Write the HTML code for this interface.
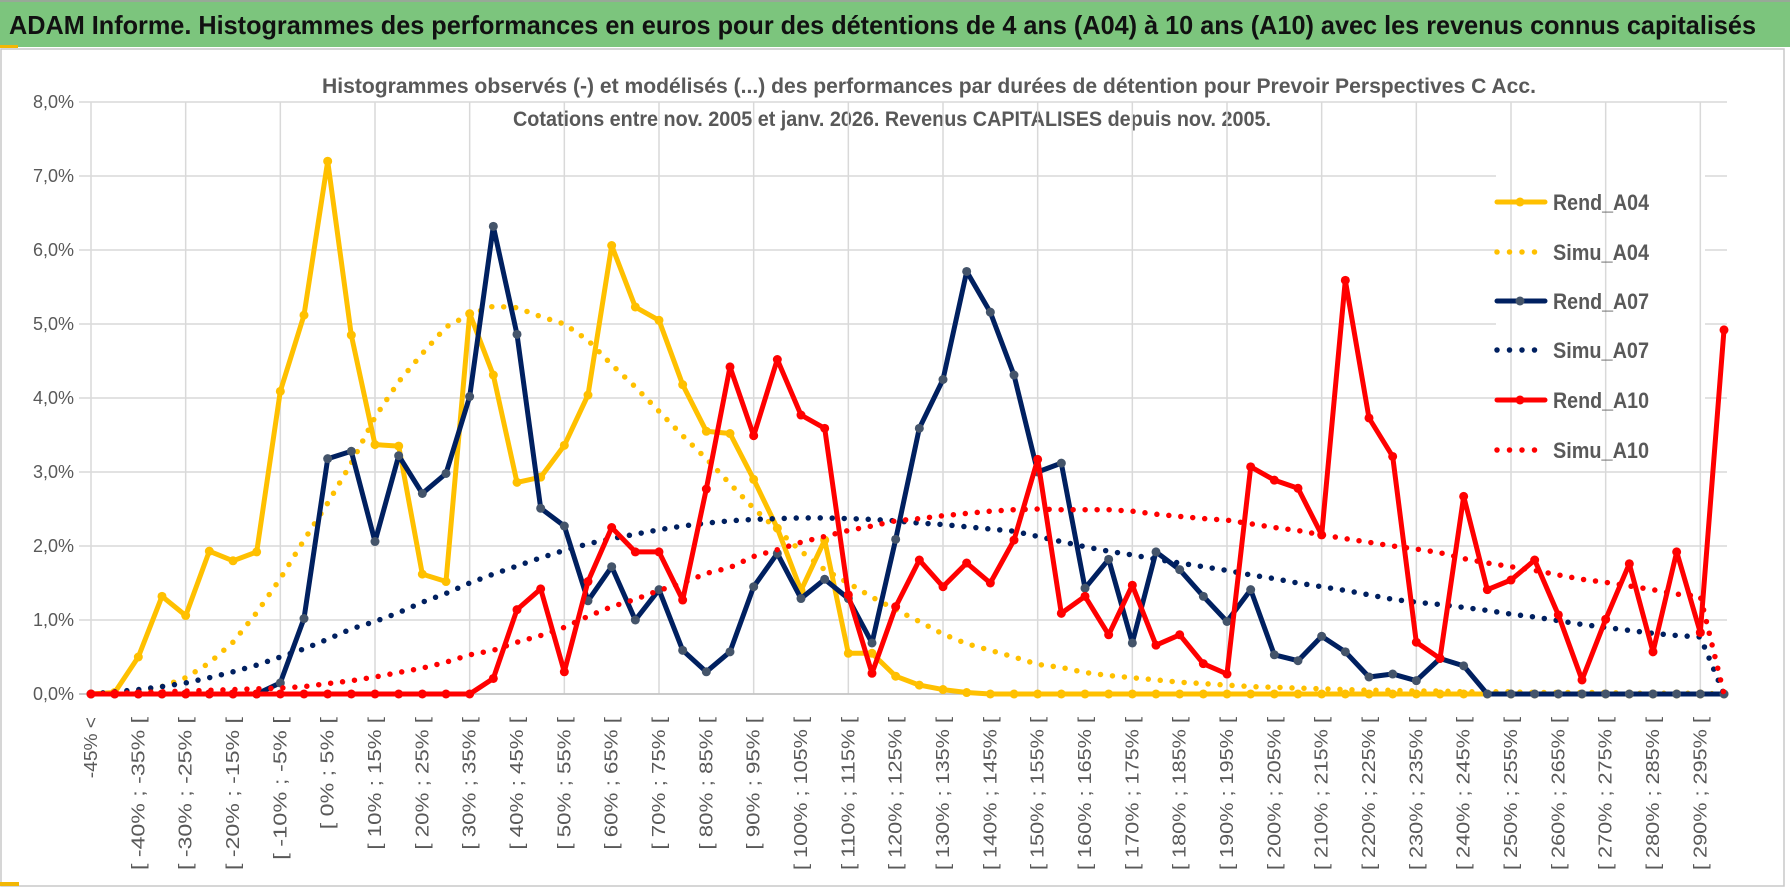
<!DOCTYPE html>
<html><head><meta charset="utf-8">
<style>
html,body{margin:0;padding:0;background:#fff;}
svg{display:block;font-family:"Liberation Sans Narrow","Liberation Sans",sans-serif;}
</style></head>
<body>
<svg id="chart" width="1790" height="888" viewBox="0 0 1790 888" xmlns="http://www.w3.org/2000/svg">
  <rect x="0" y="0" width="1790" height="888" fill="#fff"/>
  <rect x="0" y="0" width="1790" height="47" fill="#7cc57d"/>
  <line x1="0" y1="1" x2="1790" y2="1" stroke="#a0a0a0" stroke-width="1.5"/>
  <text x="9" y="34" font-size="26" font-weight="bold" fill="#111" textLength="1747" lengthAdjust="spacingAndGlyphs">ADAM Informe. Histogrammes des performances en euros pour des détentions de 4 ans (A04) à 10 ans (A10) avec les revenus connus capitalisés</text>
  <rect x="1" y="49" width="1783" height="837" fill="none" stroke="#c8c8c8" stroke-width="1.5"/>
  <rect x="0" y="45" width="18" height="3" fill="#f2b705"/>
  <rect x="0" y="882" width="19" height="4" fill="#f2b705"/>
  <text x="929" y="93" text-anchor="middle" font-size="21" font-weight="bold" fill="#595959" textLength="1214" lengthAdjust="spacingAndGlyphs">Histogrammes observés (-) et modélisés (...) des performances par durées de détention pour Prevoir Perspectives C Acc.</text>
  <text x="892" y="126" text-anchor="middle" font-size="21" font-weight="bold" fill="#595959" textLength="758" lengthAdjust="spacingAndGlyphs">Cotations entre nov. 2005 et janv. 2026. Revenus CAPITALISES depuis nov. 2005.</text>
  <g id="grid"></g>
  <g id="yticks"></g>
  <g id="xticks"></g>
  <g id="series"></g>
  <g id="legend"></g>
</svg>
<script>
const yTicks = [0,1,2,3,4,5,6,7,8];
const yTickLabels = ["0,0%","1,0%","2,0%","3,0%","4,0%","5,0%","6,0%","7,0%","8,0%"];
const categories = ["-45% <"];
for (let k = 1; k < 70; k++) { const a = -45 + 5*(k-1); categories.push("[ " + a + "% ; " + (a+5) + "% ["); }
const rendA04 = [0,0.02,0.5,1.32,1.06,1.93,1.8,1.92,4.09,5.12, 7.2,4.85,3.37,3.35,1.62,1.52,5.14,4.31,2.86,2.93, 3.36,4.04,6.06,5.23,5.05,4.18,3.55,3.52,2.9,2.24, 1.4,2.08,0.55,0.55,0.24,0.12,0.06,0.02,0,0, 0,0,0,0,0,0,0,0,0,0, 0,0,0,0,0,0,0,0,0,0, 0,0,0,0,0,0,0,0,0,0];
const simuA04 = [0,0.01,0.04,0.1,0.22,0.42,0.7,1.1,1.56,2.08, 2.58,3.12,3.74,4.22,4.6,4.96,5.13,5.24,5.22,5.1, 5.0,4.78,4.45,4.15,3.82,3.49,3.18,2.84,2.51,2.22, 1.93,1.68,1.5,1.31,1.14,0.98,0.81,0.68,0.59,0.5, 0.4,0.36,0.29,0.25,0.22,0.19,0.16,0.14,0.12,0.1, 0.09,0.08,0.07,0.06,0.05,0.05,0.04,0.04,0.03,0.03, 0.03,0.02,0.02,0.02,0.02,0.01,0.01,0.01,0.01,0];
const rendA07 = [0,0,0,0,0,0,0,0,0.15,1.02, 3.18,3.28,2.06,3.22,2.71,2.98,4.02,6.32,4.86,2.51, 2.27,1.26,1.72,1.0,1.41,0.59,0.3,0.57,1.45,1.9, 1.29,1.55,1.29,0.69,2.09,3.59,4.25,5.71,5.16,4.31, 3.0,3.12,1.43,1.82,0.69,1.92,1.68,1.32,0.98,1.41, 0.53,0.45,0.78,0.57,0.23,0.27,0.18,0.48,0.38,0, 0,0,0,0,0,0,0,0,0,0];
const simuA07 = [0,0.03,0.06,0.1,0.15,0.22,0.3,0.39,0.5,0.61, 0.74,0.88,0.98,1.1,1.24,1.36,1.5,1.62,1.73,1.84, 1.94,2.03,2.1,2.16,2.22,2.27,2.31,2.34,2.36,2.37, 2.38,2.38,2.37,2.36,2.34,2.31,2.29,2.26,2.23,2.2, 2.13,2.06,1.99,1.93,1.88,1.82,1.77,1.72,1.67,1.61, 1.56,1.5,1.45,1.4,1.34,1.28,1.24,1.21,1.17,1.13, 1.08,1.04,0.99,0.94,0.9,0.86,0.82,0.79,0.77,0];
const rendA10 = [0,0,0,0,0,0,0,0,0,0, 0,0,0,0,0,0,0,0.21,1.14,1.42, 0.3,1.52,2.25,1.92,1.92,1.27,2.77,4.42,3.49,4.52, 3.77,3.59,1.34,0.28,1.18,1.81,1.45,1.77,1.5,2.08, 3.17,1.09,1.32,0.8,1.47,0.66,0.8,0.41,0.27,3.07, 2.89,2.78,2.15,5.59,3.73,3.21,0.7,0.48,2.67,1.41, 1.54,1.81,1.07,0.19,1.01,1.76,0.57,1.92,0.83,4.92];
const simuA10 = [0,0.01,0.02,0.03,0.04,0.05,0.06,0.07,0.08,0.1, 0.14,0.18,0.23,0.29,0.35,0.43,0.53,0.59,0.7,0.79, 0.9,1.05,1.18,1.28,1.4,1.5,1.63,1.71,1.86,1.95, 2.05,2.13,2.21,2.27,2.34,2.37,2.41,2.44,2.47,2.49, 2.5,2.49,2.49,2.49,2.47,2.43,2.4,2.37,2.35,2.3, 2.25,2.21,2.15,2.1,2.05,2.0,1.96,1.91,1.83,1.77, 1.72,1.67,1.61,1.55,1.51,1.46,1.41,1.35,1.32,0];
const seriesNames = ["Rend_A04","Simu_A04","Rend_A07","Simu_A07","Rend_A10","Simu_A10"];

const NS = "http://www.w3.org/2000/svg";
const X0 = 91, X1 = 1724, Y0 = 694, YPER = 74;
const n = categories.length;
function xs(i){ return X0 + (X1 - X0) * i / (n - 1); }
function ys(v){ return Y0 - v * YPER; }
function mk(tag, attrs, parent){ const e = document.createElementNS(NS, tag); for (const k in attrs) e.setAttribute(k, attrs[k]); parent.appendChild(e); return e; }

const grid = document.getElementById('grid');
yTicks.forEach((t, k) => {
  const xr = (t >= 4 && t <= 7) ? 1496 : 1727;
  const l = mk('line', {x1: 79, x2: xr, y1: ys(t), y2: ys(t), stroke: '#d9d9d9', 'stroke-width': 1.5}, grid);
  
  
  if (t >= 4 && t <= 7) {
    const l2 = mk('line', {x1: 1705, x2: 1727, y1: ys(t), y2: ys(t), stroke: '#d9d9d9', 'stroke-width': 1.5}, grid);
    
    
  }
});
for (let i = 0; i < n; i += 4) {
  const l = mk('line', {x1: xs(i), x2: xs(i), y1: ys(8), y2: ys(0), stroke: '#d9d9d9', 'stroke-width': 1.5}, grid);
  
  
}
const ax = mk('line', {x1: 79, x2: 1727, y1: ys(0), y2: ys(0), stroke: '#bfbfbf', 'stroke-width': 1.5}, grid);



const yt = document.getElementById('yticks');
yTicks.forEach((t, k) => {
  const tx = mk('text', {x: 74, y: ys(t) + 6, 'text-anchor': 'end', 'font-size': 18, fill: '#595959', 'font-family': '"Liberation Sans", sans-serif'}, yt);
  tx.textContent = yTickLabels[k];
  
  
});

const xt = document.getElementById('xticks');
for (let i = 0; i < n - 1; i += 2) {
  const x = xs(i) + 6, y = 717;
  const len = categories[i].length * 10.2;
  const tx = mk('text', {x: x, y: y, 'text-anchor': 'end', 'font-size': 18, fill: '#595959', 'font-family': '"Liberation Sans", sans-serif', textLength: len.toFixed(1), lengthAdjust: 'spacingAndGlyphs', transform: 'rotate(-90 ' + x + ' ' + y + ')'}, xt);
  tx.textContent = categories[i];
  
  
}

const styles = [
  {data: rendA04, color: '#ffc000', marker: '#ffc000', dotted: false},
  {data: simuA04, color: '#ffc000', dotted: true},
  {data: rendA07, color: '#002060', marker: '#44546a', dotted: false},
  {data: simuA07, color: '#002060', dotted: true},
  {data: rendA10, color: '#ff0000', marker: '#ff0000', dotted: false},
  {data: simuA10, color: '#ff0000', dotted: true}
];
const sg = document.getElementById('series');
styles.forEach((s, si) => {
  const g = mk('g', {}, sg);
  
  
  const pts = s.data.map((v, i) => xs(i).toFixed(1) + ',' + ys(v).toFixed(1)).join(' ');
  const attrs = {points: pts, fill: 'none', stroke: s.color, 'stroke-linejoin': 'round', 'stroke-linecap': 'round'};
  if (s.dotted) { attrs['stroke-width'] = 5.5; attrs['stroke-dasharray'] = '0 12'; }
  else { attrs['stroke-width'] = 5; }
  const pl = mk('polyline', attrs, g);
  
  
  if (!s.dotted) {
    s.data.forEach((v, i) => {
      const c = mk('circle', {cx: xs(i), cy: ys(v), r: 4.5, fill: s.marker}, g);
      
      
    });
  }
});

const lg = document.getElementById('legend');
const legY = [202, 252, 301, 350, 400, 450];
styles.forEach((s, si) => {
  const g = mk('g', {}, lg);
  
  
  const y = legY[si];
  if (s.dotted) {
    mk('line', {x1: 1497, x2: 1545, y1: y, y2: y, stroke: s.color, 'stroke-width': 5.5, 'stroke-dasharray': '0 12.5', 'stroke-linecap': 'round'}, g);
  } else {
    mk('line', {x1: 1497, x2: 1545, y1: y, y2: y, stroke: s.color, 'stroke-width': 5, 'stroke-linecap': 'round'}, g);
    mk('circle', {cx: 1520, cy: y, r: 4.5, fill: s.marker}, g);
  }
  const tx = mk('text', {x: 1553, y: y + 8, 'font-size': 22, 'font-weight': 'bold', fill: '#595959', textLength: 96, lengthAdjust: 'spacingAndGlyphs'}, g);
  tx.textContent = seriesNames[si];
});
</script>
</body></html>
